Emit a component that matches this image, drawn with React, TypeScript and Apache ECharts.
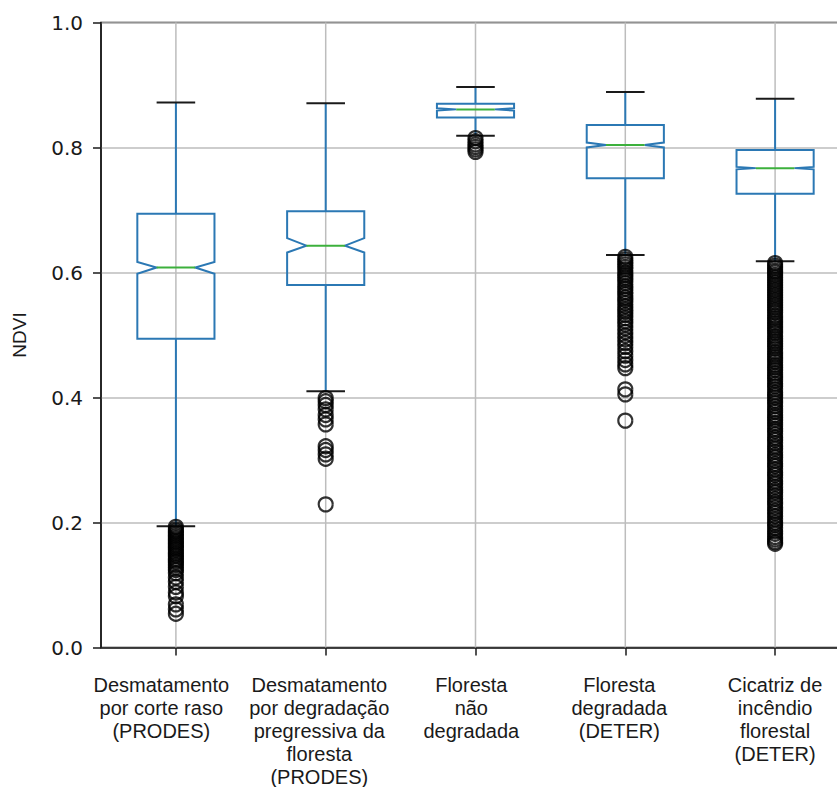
import React, { useEffect, useRef } from "react";
import * as echarts from "echarts";

const categories = [
  "Desmatamento\npor corte raso\n(PRODES)",
  "Desmatamento\npor degradação\npregressiva da\nfloresta\n(PRODES)",
  "Floresta\nnão\ndegradada",
  "Floresta\ndegradada\n(DETER)",
  "Cicatriz de\nincêndio\nflorestal\n(DETER)",
];

const whiskerLow = [0.194, 0.41, 0.819, 0.628, 0.618];
const q1 = [0.494, 0.58, 0.848, 0.751, 0.726];
const notchLow = [0.598, 0.632, 0.859, 0.8, 0.765];
const median = [0.608, 0.643, 0.861, 0.804, 0.767];
const notchHigh = [0.617, 0.655, 0.863, 0.808, 0.769];
const q3 = [0.694, 0.698, 0.87, 0.836, 0.796];
const whiskerHigh = [0.872, 0.871, 0.897, 0.889, 0.878];

const outliersCorteRaso = [
  0.193, 0.189, 0.186, 0.183, 0.18, 0.177, 0.174, 0.171, 0.168, 0.165, 0.162,
  0.159, 0.156, 0.152, 0.149, 0.146, 0.142, 0.139, 0.136, 0.132, 0.128, 0.124,
  0.119, 0.112, 0.105, 0.097, 0.088, 0.082, 0.069, 0.061, 0.054,
];
const outliersDegradacao = [
  0.399, 0.394, 0.388, 0.381, 0.372, 0.365, 0.357, 0.322, 0.316, 0.309, 0.302,
  0.229,
];
const outliersNaoDegradada = [0.815, 0.81, 0.805, 0.801, 0.797, 0.793];
const outliersDegradada = [
  0.625, 0.621, 0.617, 0.613, 0.609, 0.605, 0.6, 0.596, 0.592, 0.588, 0.583,
  0.578, 0.574, 0.569, 0.565, 0.56, 0.556, 0.551, 0.546, 0.541, 0.537, 0.532,
  0.527, 0.522, 0.517, 0.511, 0.505, 0.499, 0.493, 0.487, 0.481, 0.474, 0.467,
  0.46, 0.453, 0.447, 0.413, 0.405, 0.363,
];
const outliersIncendio = [
  0.615, 0.611, 0.607, 0.603, 0.6, 0.596, 0.592, 0.588, 0.584, 0.58, 0.576,
  0.572, 0.568, 0.564, 0.56, 0.556, 0.552, 0.548, 0.544, 0.54, 0.536, 0.531,
  0.527, 0.523, 0.519, 0.515, 0.511, 0.507, 0.503, 0.498, 0.494, 0.49, 0.486,
  0.482, 0.478, 0.473, 0.469, 0.465, 0.461, 0.457, 0.452, 0.448, 0.444, 0.439,
  0.435, 0.431, 0.427, 0.422, 0.418, 0.413, 0.408, 0.404, 0.4, 0.395, 0.391,
  0.386, 0.381, 0.377, 0.372, 0.368, 0.364, 0.359, 0.355, 0.35, 0.346, 0.341,
  0.336, 0.332, 0.327, 0.322, 0.318, 0.313, 0.308, 0.304, 0.299, 0.294, 0.29,
  0.285, 0.28, 0.276, 0.271, 0.266, 0.262, 0.257, 0.252, 0.248, 0.243, 0.238,
  0.233, 0.229, 0.224, 0.219, 0.215, 0.21, 0.205, 0.2, 0.196, 0.191, 0.186,
  0.182, 0.177, 0.173, 0.169, 0.166,
];
const outlierGroups = [
  outliersCorteRaso,
  outliersDegradacao,
  outliersNaoDegradada,
  outliersDegradada,
  outliersIncendio,
];

const yAxisName = "NDVI";
const yTicks = { min: 0, max: 1, interval: 0.2 };

// layout only: horizontal nudge of each category's label (px)
const labelShift = [-14.6, -6.4, -4.2, -6, 0];

const BLUE = "#2b78b4";
const GREEN = "#3cb03c";
const DARK = "#1a1a1a";
const GRID = "#bdbdbd";
const LABEL_FONT = "'Liberation Sans', Arial, sans-serif";
const TICK_FONT = "'DejaVu Sans', sans-serif";

export default function App() {
  const ref = useRef<HTMLDivElement>(null);

  useEffect(() => {
    if (!ref.current) return;
    const chart = echarts.init(ref.current, null, { renderer: "svg" });

    const boxData = categories.map((_, i) => [
      i,
      whiskerLow[i],
      q1[i],
      notchLow[i],
      median[i],
      notchHigh[i],
      q3[i],
      whiskerHigh[i],
    ]);

    const outlierData: number[][] = [];
    outlierGroups.forEach((g, i) => g.forEach((v) => outlierData.push([i, v])));

    const rich: Record<string, any> = {};
    labelShift.forEach((s, i) => {
      rich["r" + i] = {
        fontSize: 20,
        lineHeight: 23,
        fontFamily: LABEL_FONT,
        color: DARK,
        padding: s < 0 ? [0, -2 * s, 0, 0] : [0, 0, 0, 2 * s],
      };
    });

    const renderItem = (params: any, api: any) => {
      const i = api.value(0);
      const lo = api.value(1);
      const qq1 = api.value(2);
      const nlo = api.value(3);
      const med = api.value(4);
      const nhi = api.value(5);
      const qq3 = api.value(6);
      const hi = api.value(7);
      const cx = api.coord([i, 0])[0];
      const Y = (v: number) => api.coord([i, v])[1];
      const w = api.size([1, 0])[0] * 0.515;
      const h = w / 2;
      const n = w / 4;
      return {
        type: "group",
        children: [
          {
            type: "line",
            shape: { x1: cx, y1: Y(yTicks.max), x2: cx, y2: Y(yTicks.min) },
            style: { stroke: GRID, lineWidth: 1.5 },
          },
          {
            type: "line",
            shape: { x1: cx, y1: Y(qq3), x2: cx, y2: Y(hi) },
            style: { stroke: BLUE, lineWidth: 2 },
          },
          {
            type: "line",
            shape: { x1: cx, y1: Y(qq1), x2: cx, y2: Y(lo) },
            style: { stroke: BLUE, lineWidth: 2 },
          },
          {
            type: "line",
            shape: { x1: cx - n, y1: Y(hi), x2: cx + n, y2: Y(hi) },
            style: { stroke: DARK, lineWidth: 2 },
          },
          {
            type: "line",
            shape: { x1: cx - n, y1: Y(lo), x2: cx + n, y2: Y(lo) },
            style: { stroke: DARK, lineWidth: 2 },
          },
          {
            type: "polygon",
            shape: {
              points: [
                [cx - h, Y(qq1)],
                [cx + h, Y(qq1)],
                [cx + h, Y(nlo)],
                [cx + n, Y(med)],
                [cx + h, Y(nhi)],
                [cx + h, Y(qq3)],
                [cx - h, Y(qq3)],
                [cx - h, Y(nhi)],
                [cx - n, Y(med)],
                [cx - h, Y(nlo)],
              ],
            },
            style: { fill: "none", stroke: BLUE, lineWidth: 2 },
          },
          {
            type: "line",
            shape: { x1: cx - n, y1: Y(med), x2: cx + n, y2: Y(med) },
            style: { stroke: GREEN, lineWidth: 2 },
          },
        ],
      };
    };

    chart.setOption({
      animation: false,
      backgroundColor: "#ffffff",
      grid: {
        left: 101,
        top: 22.5,
        width: 749,
        height: 628.5,
        show: true,
        borderColor: DARK,
        borderWidth: 1.5,
        backgroundColor: "transparent",
      },
      xAxis: {
        type: "category",
        data: categories,
        axisLine: { show: true, lineStyle: { color: DARK, width: 1.5 } },
        axisTick: {
          show: true,
          alignWithLabel: true,
          length: 8,
          lineStyle: { color: DARK, width: 1.5 },
        },
        splitLine: { show: false },
        axisLabel: {
          interval: 0,
          margin: 26,
          formatter: (value: string, idx: number) =>
            value
              .split("\n")
              .map((l) => `{r${idx}|${l}}`)
              .join("\n"),
          rich,
        },
      },
      yAxis: {
        type: "value",
        name: yAxisName,
        nameLocation: "middle",
        nameRotate: 90,
        nameGap: 72,
        nameTextStyle: {
          fontSize: 19,
          fontFamily: LABEL_FONT,
          color: DARK,
        },
        min: yTicks.min,
        max: yTicks.max,
        interval: yTicks.interval,
        axisLine: { show: true, lineStyle: { color: DARK, width: 1.5 } },
        axisTick: { show: true, length: 8, lineStyle: { color: DARK, width: 1.5 } },
        splitLine: { show: true, lineStyle: { color: GRID, width: 1.5 } },
        axisLabel: {
          margin: 18,
          fontSize: 20,
          fontFamily: TICK_FONT,
          color: DARK,
          formatter: (v: number) => v.toFixed(1),
        },
      },
      series: [
        {
          type: "custom",
          name: "boxes",
          renderItem,
          data: boxData,
          encode: { x: 0, y: [1, 2, 3, 4, 5, 6, 7] },
          z: 2,
        },
        {
          type: "scatter",
          name: "outliers",
          data: outlierData,
          symbol: "circle",
          symbolSize: 14,
          itemStyle: {
            color: "rgba(255,255,255,0)",
            borderColor: "#000000",
            borderWidth: 2.2,
          },
          z: 3,
        },
      ],
    });

    return () => chart.dispose();
  }, []);

  return (
    <div
      ref={ref}
      style={{ position: "fixed", left: 0, top: 0, width: 850, height: 787 }}
    />
  );
}
